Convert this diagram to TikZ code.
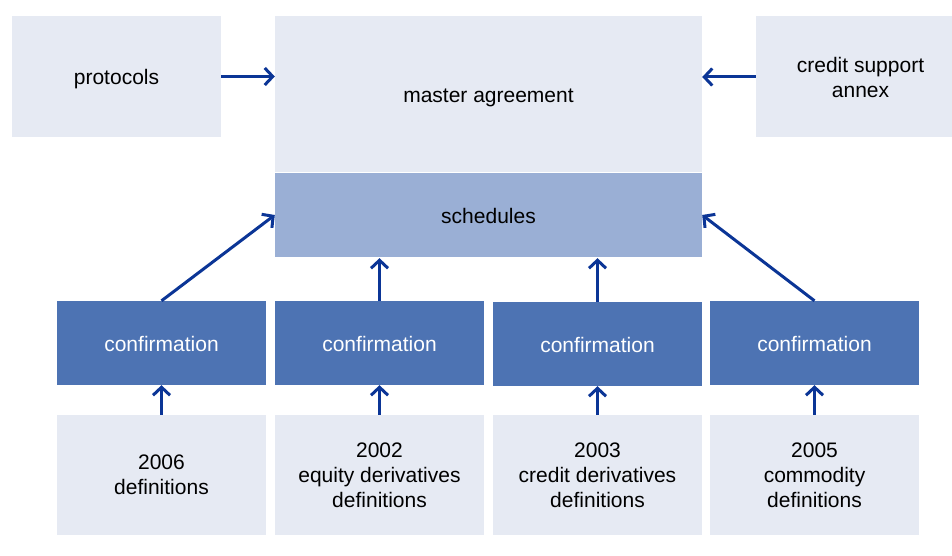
\documentclass[tikz,border=0pt]{standalone}
\usepackage{fontspec}
\setmainfont{Liberation Sans}
\usetikzlibrary{arrows.meta}
\definecolor{lightbox}{HTML}{E6EAF3}
\definecolor{schedbox}{HTML}{9AAFD5}
\definecolor{confbox}{HTML}{4D73B3}
\definecolor{arrowblue}{HTML}{0B3596}
\newcommand{\lowertext}[2]{\raisebox{0pt}[\dimexpr\height+#1\relax][\depth]{#2}}
\begin{document}
\begin{tikzpicture}[x=1pt,y=-1pt,
  lbox/.style={fill=lightbox, draw=none, inner sep=0pt, align=center,
    font=\fontsize{21}{25}\selectfont, text=black},
  sbox/.style={lbox, fill=schedbox},
  cbox/.style={lbox, fill=confbox, text=white, minimum width=209pt, minimum height=84pt},
  dbox/.style={lbox, minimum width=209pt, minimum height=120pt},
  conn/.style={draw=arrowblue, line width=3pt, -{Straight Barb[length=8pt,width=17pt]}}]
\useasboundingbox (0,0) rectangle (952,556);
\clip (0,0) rectangle (952,556);
\node[lbox, minimum width=209pt, minimum height=121pt] (prot) at (116.5,76.5) {\lowertext{6pt}{protocols}};
\node[lbox, minimum width=427pt, minimum height=156pt] (master) at (488.5,94) {\lowertext{8pt}{master agreement}};
\node[sbox, minimum width=427pt, minimum height=84pt] (sched) at (488.5,215) {\lowertext{2pt}{schedules}};
\node[lbox, minimum width=209pt, minimum height=121pt] (csa) at (860.5,77) {credit support\\annex};
\node[cbox] (c1) at (161.5,343) {\lowertext{2pt}{confirmation}};
\node[cbox] (c2) at (379.5,343) {\lowertext{2pt}{confirmation}};
\node[cbox] (c3) at (597.5,344) {\lowertext{2pt}{confirmation}};
\node[cbox] (c4) at (814.5,343) {\lowertext{2pt}{confirmation}};
\node[dbox] (d1) at (161.5,475) {2006\\definitions};
\node[dbox] (d2) at (379.5,475) {2002\\equity derivatives\\definitions};
\node[dbox] (d3) at (597.5,475) {2003\\credit derivatives\\definitions};
\node[dbox] (d4) at (814.5,475) {2005\\commodity\\definitions};
\draw[conn] (prot.east) -- (prot.east -| master.west);
\draw[conn] (csa.west) -- (csa.west -| master.east);
\draw[conn] (c1.north) -- (sched.west);
\draw[conn] (c4.north) -- (sched.east);
\draw[conn, shorten >=1pt] (c2.north) -- (c2.north |- sched.south);
\draw[conn, shorten >=1pt] (c3.north) -- (c3.north |- sched.south);
\draw[conn] (d1.north) -- (c1.south);
\draw[conn] (d2.north) -- (c2.south);
\draw[conn] (d3.north) -- (c3.south);
\draw[conn] (d4.north) -- (c4.south);
\end{tikzpicture}
\end{document}
